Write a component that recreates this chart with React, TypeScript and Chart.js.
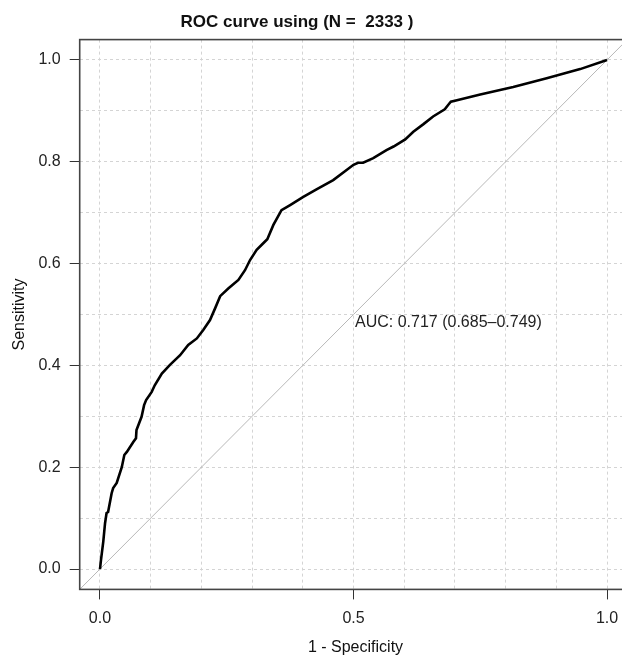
import { useEffect, useRef } from "react";
import { Chart, registerables } from "chart.js";

Chart.register(...registerables);

// ROC curve (1 - specificity, sensitivity)
const ROC_FPR = [
  0, 0.002, 0.0065, 0.01, 0.013, 0.016, 0.023, 0.026, 0.033, 0.043, 0.048, 0.053,
  0.066, 0.071, 0.072, 0.082, 0.087, 0.091, 0.102, 0.108, 0.122, 0.138, 0.158,
  0.174, 0.191, 0.204, 0.217, 0.227, 0.237, 0.253, 0.273, 0.286, 0.296, 0.309,
  0.322, 0.33, 0.342, 0.358, 0.375, 0.401, 0.427, 0.46, 0.5, 0.509, 0.519, 0.539,
  0.565, 0.579, 0.602, 0.618, 0.638, 0.657, 0.68, 0.687, 0.692, 0.704, 0.75,
  0.815, 0.881, 0.947, 1.0,
];
const ROC_TPR = [
  0, 0.018, 0.054, 0.09, 0.11, 0.112, 0.149, 0.159, 0.169, 0.2, 0.224, 0.23,
  0.25, 0.257, 0.273, 0.299, 0.322, 0.332, 0.348, 0.361, 0.384, 0.401, 0.42,
  0.44, 0.453, 0.47, 0.489, 0.512, 0.536, 0.551, 0.568, 0.587, 0.607, 0.627,
  0.64, 0.648, 0.676, 0.705, 0.715, 0.731, 0.746, 0.764, 0.794, 0.798, 0.798,
  0.807, 0.823, 0.83, 0.844, 0.859, 0.874, 0.889, 0.903, 0.912, 0.918, 0.921,
  0.932, 0.947, 0.964, 0.982, 1.0,
];

// reference diagonal, spanning the whole plot box
const DIAG = [-0.04, 1.04];

const AXIS_MIN = -0.04;
const AXIS_MAX = 1.04;
const GRID_VALUES = [0, 0.1, 0.2, 0.3, 0.4, 0.5, 0.6, 0.7, 0.8, 0.9, 1.0];
const X_TICK_LABELS = [0, 0.5, 1.0];
const Y_TICK_LABELS = [0, 0.2, 0.4, 0.6, 0.8, 1.0];

const TITLE = "ROC curve using (N =  2333 )";
const X_TITLE = "1 - Specificity";
const Y_TITLE = "Sensitivity";
const AUC_TEXT = "AUC: 0.717 (0.685\u20130.749)";
const AUC_POS = [0.5, 0.5];

const FONT = "'Liberation Sans', Arial, Helvetica, sans-serif";

const isIn = (list: number[], v: number) => list.some((l) => Math.abs(l - v) < 1e-6);

export default function App() {
  const ref = useRef<HTMLCanvasElement | null>(null);

  useEffect(() => {
    if (!ref.current) return;
    const textPlugin = {
      id: "rocText",
      afterDraw(chart: any) {
        const { ctx, chartArea, scales } = chart;
        ctx.save();
        // plot box
        ctx.strokeStyle = "#444444";
        ctx.lineWidth = 1.6;
        ctx.strokeRect(chartArea.left, chartArea.top, chartArea.right - chartArea.left, chartArea.bottom - chartArea.top);
        ctx.fillStyle = "#111111";
        // title
        ctx.font = `bold 17px ${FONT}`;
        ctx.textAlign = "center";
        ctx.textBaseline = "middle";
        ctx.fillText(TITLE, 297, 22);
        // x title
        ctx.font = `16px ${FONT}`;
        ctx.fillText(X_TITLE, (chartArea.left + chartArea.right) / 2 + 2, 648);
        // y title
        ctx.save();
        ctx.translate(20, (chartArea.top + chartArea.bottom) / 2);
        ctx.rotate(-Math.PI / 2);
        ctx.fillText(Y_TITLE, 0, 0);
        ctx.restore();
        // AUC text
        ctx.textAlign = "left";
        ctx.textBaseline = "alphabetic";
        ctx.fillStyle = "#222222";
        const ax = scales.x.getPixelForValue(AUC_POS[0]);
        const ay = scales.y.getPixelForValue(AUC_POS[1]);
        ctx.fillText(AUC_TEXT, ax + 1.5, ay + 12.5);
        ctx.restore();
      },
    };

    const gridOpts = (labeled: number[]) => ({
      color: "#d4d4d4",
      lineWidth: 1,
      drawTicks: true,
      tickLength: 10,
      tickWidth: 1,
      tickBorderDash: [],
      tickColor: (c: any) => (c.tick && isIn(labeled, c.tick.value) ? "#333333" : "rgba(0,0,0,0)"),
    });

    const chart = new Chart(ref.current, {
      type: "scatter",
      data: {
        datasets: [
          {
            data: ROC_FPR.map((x, i) => ({ x, y: ROC_TPR[i] })),
            showLine: true,
            borderColor: "#000000",
            borderWidth: 2.6,
            pointRadius: 0,
            tension: 0,
          },
          {
            data: DIAG.map((v) => ({ x: v, y: v })),
            showLine: true,
            borderColor: "#b8b8b8",
            borderWidth: 1,
            pointRadius: 0,
          },
        ],
      },
      plugins: [textPlugin],
      options: {
        animation: false,
        responsive: false,
        devicePixelRatio: 1,
        layout: { padding: { left: 0, right: 4.7, top: 39.6, bottom: 0 } },
        plugins: { legend: { display: false }, tooltip: { enabled: false }, title: { display: false } },
        scales: {
          x: {
            type: "linear",
            min: AXIS_MIN,
            max: AXIS_MAX,
            afterBuildTicks: (s: any) => {
              s.ticks = GRID_VALUES.map((v) => ({ value: v }));
            },
            afterFit: (s: any) => {
              s.height = 68.6;
            },
            border: { display: false, dash: [3, 3] },
            grid: gridOpts(X_TICK_LABELS) as any,
            ticks: {
              autoSkip: false,
              maxRotation: 0,
              padding: 10,
              color: "#222222",
              font: { family: FONT, size: 16 },
              callback: (v: any) => (isIn(X_TICK_LABELS, Number(v)) ? Number(v).toFixed(1) : ""),
            },
          },
          y: {
            type: "linear",
            min: AXIS_MIN,
            max: AXIS_MAX,
            afterBuildTicks: (s: any) => {
              s.ticks = GRID_VALUES.map((v) => ({ value: v }));
            },
            afterFit: (s: any) => {
              s.width = 79.7;
            },
            border: { display: false, dash: [3, 3] },
            grid: gridOpts(Y_TICK_LABELS) as any,
            ticks: {
              autoSkip: false,
              padding: 9,
              color: "#222222",
              font: { family: FONT, size: 16 },
              callback: (v: any) => (isIn(Y_TICK_LABELS, Number(v)) ? Number(v).toFixed(1) : ""),
            },
          },
        },
      },
    } as any);
    return () => chart.destroy();
  }, []);

  return (
    <div style={{ position: "absolute", left: 0, top: 0, width: 622, height: 658, overflow: "hidden", background: "#fff" }}>
      <canvas ref={ref} width={632} height={658} style={{ display: "block" }} />
    </div>
  );
}
